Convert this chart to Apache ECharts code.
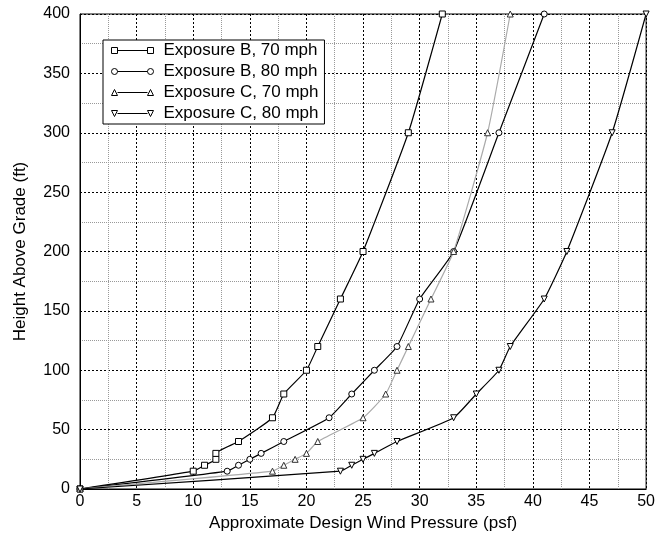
<!DOCTYPE html>
<html>
<head>
<meta charset="utf-8">
<script src="https://cdn.jsdelivr.net/npm/echarts@6/dist/echarts.min.js"></script>
<style>
    html, body { margin: 0; padding: 0; background: #fff; }
    #chart { width: 658px; height: 540px; }
</style>
</head>
<body>
<div id="chart"></div>
<script>
// heights (ft) shared by all curves
const heights = [0, 15, 20, 25, 30, 40, 60, 80, 100, 120, 160, 200, 300, 400]
// pressures (psf)
const expB70 = [0, 10, 11, 12, 12, 14, 17, 18, 20, 21, 23, 25, 29, 32]
const expB80 = [0, 13, 14, 15, 16, 18, 22, 24, 26, 28, 30, 33, 37, 41]
const expC70 = [0, 17, 18, 19, 20, 21, 25, 27, 28, 29, 31, 33, 36, 38]
const expC80 = [0, 23, 24, 25, 26, 28, 33, 35, 37, 38, 41, 43, 47, 50]
const seriesNames = ['Exposure B, 70 mph', 'Exposure B, 80 mph', 'Exposure C, 70 mph', 'Exposure C, 80 mph']

const font = 'Liberation Sans, Arial, Helvetica, sans-serif'

// legend icons: line with a marker at each end
const icons = [
    'path://M0 0.5h6v6h-6Z M6 3.5H36 M36 0.5h6v6h-6Z',
    'path://M6 3.5A3 3 0 1 1 0 3.5A3 3 0 1 1 6 3.5Z M6 3.5H36 M42 3.5A3 3 0 1 1 36 3.5A3 3 0 1 1 42 3.5Z',
    'path://M0 6.5L3 0.5L6 6.5Z M6 3.5H36 M36 6.5L39 0.5L42 6.5Z',
    'path://M0 0.5L6 0.5L3 6.5Z M6 3.5H36 M36 0.5L42 0.5L39 6.5Z'
]

function pairs(xs) {
    return xs.map((x, i) => [x, heights[i]])
}

function makeSeries(name, xs, symbol, rotate, lineColor, markColor) {
    return {
        name: name,
        type: 'line',
        data: pairs(xs),
        symbol: symbol,
        symbolRotate: rotate,
        symbolSize: 6,
        showAllSymbol: true,
        smooth: 0.15,
        lineStyle: { color: lineColor, width: 1.2 },
        itemStyle: { color: '#fff', borderColor: markColor, borderWidth: 1 }
    }
}

var myChart = echarts.init(document.getElementById('chart'))
let option = {
    animation: false,
    backgroundColor: '#fff',
    textStyle: { fontFamily: font, color: '#000' },
    grid: {
        left: 80, right: 8, top: 14, bottom: 51,
        show: true, borderColor: '#000', borderWidth: 1, backgroundColor: 'transparent'
    },
    legend: {
        orient: 'vertical',
        left: 103,
        top: 40,
        padding: [2, 6, 2, 8],
        itemGap: 4,
        itemWidth: 42,
        itemHeight: 7,
        backgroundColor: '#fff',
        borderColor: '#000',
        borderWidth: 1,
        borderRadius: 0,
        textStyle: { fontFamily: font, fontSize: 17, color: '#000', lineHeight: 17, padding: [0, 0, 0, 5] },
        itemStyle: { color: '#fff', borderColor: '#000', borderWidth: 1 },
        lineStyle: { color: '#000' },
        data: seriesNames.map((n, i) => ({ name: n, icon: icons[i] }))
    },
    xAxis: {
        type: 'value',
        min: 0, max: 50, interval: 5,
        name: 'Approximate Design Wind Pressure (psf)',
        nameLocation: 'middle',
        nameGap: 23,
        nameTextStyle: { fontFamily: font, fontSize: 17, color: '#000' },
        axisLine: { show: true, onZero: false, lineStyle: { color: '#000', width: 1 } },
        axisTick: { show: false },
        axisLabel: { fontFamily: font, fontSize: 16, color: '#000', margin: 5 },
        splitLine: { show: true, lineStyle: { color: '#000', type: [2, 2], width: 1 } },
        minorTick: { show: false, splitNumber: 2 },
        minorSplitLine: { show: true, lineStyle: { color: '#999', type: [1, 1], width: 1 } }
    },
    yAxis: {
        type: 'value',
        min: 0, max: 400, interval: 50,
        name: 'Height Above Grade (ft)',
        nameLocation: 'middle',
        nameGap: 51,
        nameTextStyle: { fontFamily: font, fontSize: 17, color: '#000' },
        axisLine: { show: true, onZero: false, lineStyle: { color: '#000', width: 1 } },
        axisTick: { show: false },
        axisLabel: { fontFamily: font, fontSize: 16, color: '#000', margin: 10 },
        splitLine: { show: true, lineStyle: { color: '#000', type: [2, 2], width: 1 } },
        minorTick: { show: false, splitNumber: 2 },
        minorSplitLine: { show: true, lineStyle: { color: '#999', type: [1, 1], width: 1 } }
    },
    series: [
        makeSeries(seriesNames[0], expB70, 'rect', 0, '#000', '#000'),
        makeSeries(seriesNames[1], expB80, 'circle', 0, '#000', '#000'),
        makeSeries(seriesNames[2], expC70, 'triangle', 0, '#aaa', '#333'),
        makeSeries(seriesNames[3], expC80, 'triangle', 180, '#000', '#000')
    ]
}
myChart.setOption(option)
</script>
</body>
</html>
